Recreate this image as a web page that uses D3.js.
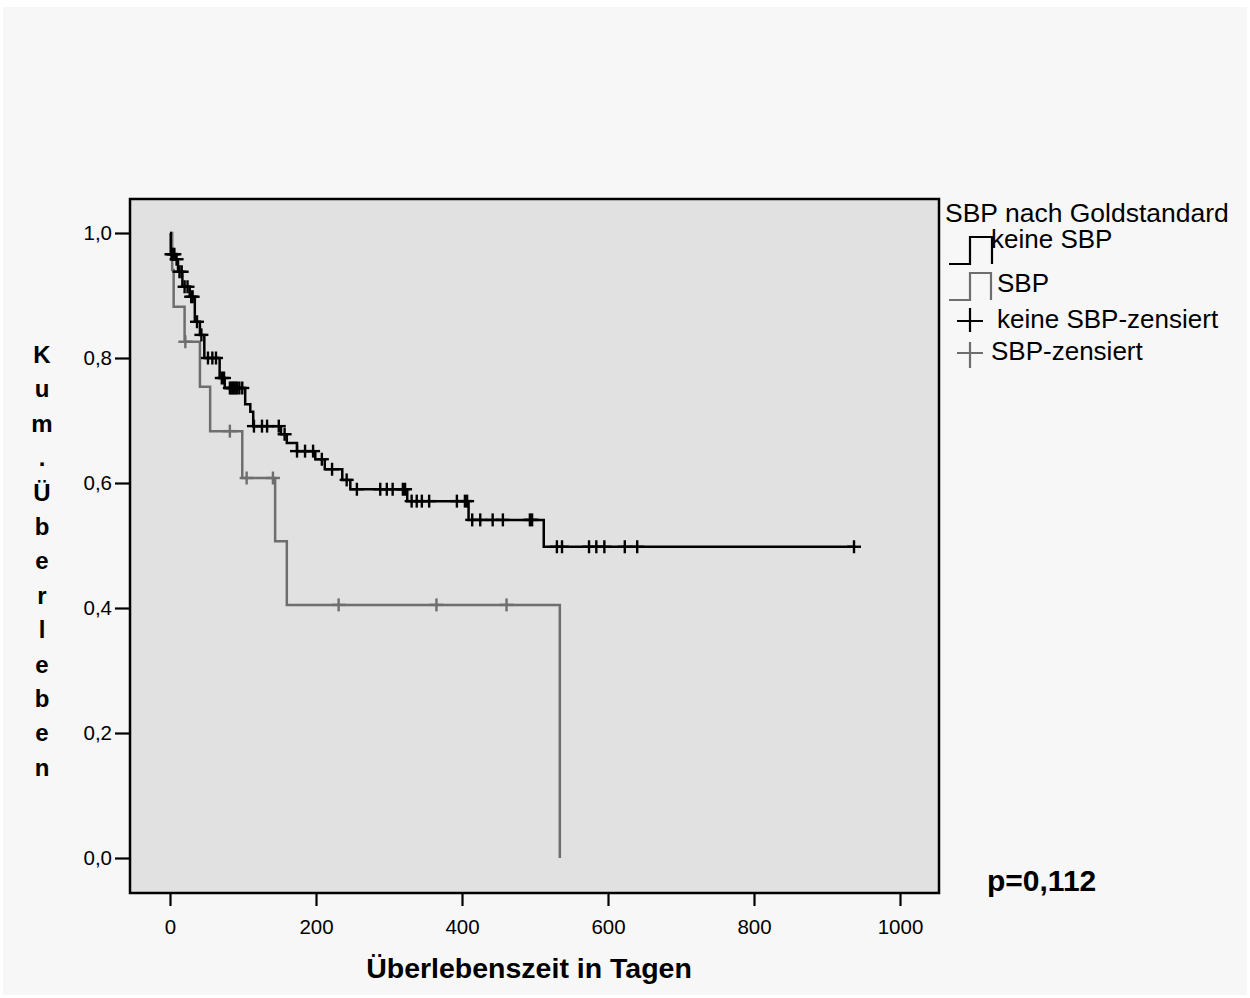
<!DOCTYPE html>
<html>
<head>
<meta charset="utf-8">
<script src="https://cdn.jsdelivr.net/npm/d3@7"></script>
<style>
  html, body { margin: 0; padding: 0; background: #ffffff; }
  svg { display: block; font-family: "Liberation Sans", Arial, sans-serif; }
</style>
</head>
<body>
<svg id="chart" width="1250" height="998"></svg>
<script>
// ---- data ----
const xTicks = [0, 200, 400, 600, 800, 1000];
const xTickLabels = ["0", "200", "400", "600", "800", "1000"];
const yTicks = [0, 0.2, 0.4, 0.6, 0.8, 1.0];
const yTickLabels = ["0,0", "0,2", "0,4", "0,6", "0,8", "1,0"];

// keine SBP (black): step times (days) and survival after each step
const keineTimes = [1, 7, 11, 17, 27, 34, 41, 47, 68, 75, 103, 110, 114, 152, 160, 174, 199, 212, 236, 247, 325, 409, 512];
const keineSurv  = [0.966, 0.958, 0.938, 0.914, 0.898, 0.858, 0.837, 0.800, 0.768, 0.752, 0.726, 0.714, 0.691, 0.678, 0.664, 0.651, 0.638, 0.622, 0.605, 0.590, 0.571, 0.541, 0.498];
const keineCensored = [2, 4, 6, 9, 13, 16, 20, 24, 29, 31, 37, 43, 52, 58, 63, 71, 74, 82, 84, 86, 88, 90, 92, 95, 99,
  115, 126, 133, 149, 157, 174, 185, 196, 208, 222, 242, 256, 288, 297, 305, 319, 322, 331, 338, 345, 355, 393, 404, 407,
  414, 425, 442, 456, 493, 496, 530, 537, 574, 584, 595, 623, 640, 937];

// SBP (gray)
const sbpTimes = [3, 5, 20, 41, 55, 99, 144, 160, 534];
const sbpSurv  = [0.941, 0.882, 0.826, 0.754, 0.683, 0.608, 0.507, 0.405, 0.0];
const sbpCensored = [21, 82, 105, 141, 231, 365, 461];

const legendTitle = "SBP nach Goldstandard";
const legendLabels = ["keine SBP", "SBP", "keine SBP-zensiert", "SBP-zensiert"];
const xTitle = "Überlebenszeit in Tagen";
const yTitle = "Kum.Überleben";
const pText = "p=0,112";

const BLACK = "#000000";
const GRAY = "#6e6e6e";

// ---- drawing ----
const svg = d3.select("#chart");

svg.append("rect").attr("x", 3).attr("y", 7).attr("width", 1244).attr("height", 988).attr("fill", "#f7f7f7");

const plot = { left: 130, top: 199, right: 939, bottom: 893 };
svg.append("rect")
  .attr("x", plot.left).attr("y", plot.top)
  .attr("width", plot.right - plot.left).attr("height", plot.bottom - plot.top)
  .attr("fill", "#e1e1e1");

const x = d3.scaleLinear().domain([0, 1000]).range([170, 900]);
const y = d3.scaleLinear().domain([0, 1]).range([858, 233]);

function stepPath(times, surv, endTime) {
  const p = d3.path();
  p.moveTo(x(0), y(1));
  let cur = 1;
  times.forEach((t, i) => {
    p.lineTo(x(t), y(cur));
    cur = surv[i];
    p.lineTo(x(t), y(cur));
  });
  if (endTime !== undefined && endTime > times[times.length - 1]) p.lineTo(x(endTime), y(cur));
  return p.toString();
}
function survAt(times, surv, t) {
  let s = 1;
  times.forEach((tt, i) => { if (t >= tt) s = surv[i]; });
  return s;
}

const g = svg.append("g");

// gray curve first, black on top
g.append("path").attr("d", stepPath(sbpTimes, sbpSurv))
  .attr("fill", "none").attr("stroke", GRAY).attr("stroke-width", 2.5);
g.append("path").attr("d", stepPath(keineTimes, keineSurv, d3.max(keineCensored)))
  .attr("fill", "none").attr("stroke", BLACK).attr("stroke-width", 2.5);

function censorMarks(times, stepT, stepS, color) {
  const sel = g.append("g").selectAll("g").data(times).join("g")
    .attr("transform", d => `translate(${x(d)},${y(survAt(stepT, stepS, d))})`);
  sel.append("line").attr("x1", -7).attr("x2", 7).attr("y1", 0).attr("y2", 0)
    .attr("stroke", color).attr("stroke-width", 2.4);
  sel.append("line").attr("x1", 0).attr("x2", 0).attr("y1", -6.5).attr("y2", 6.5)
    .attr("stroke", color).attr("stroke-width", 2.4);
}
censorMarks(sbpCensored, sbpTimes, sbpSurv, GRAY);
censorMarks(keineCensored, keineTimes, keineSurv, BLACK);

// frame
svg.append("rect")
  .attr("x", plot.left).attr("y", plot.top)
  .attr("width", plot.right - plot.left).attr("height", plot.bottom - plot.top)
  .attr("fill", "none").attr("stroke", "#000").attr("stroke-width", 2.5);

// x axis
const xAxis = d3.axisBottom(x).tickValues(xTicks).tickFormat((d, i) => xTickLabels[i])
  .tickSize(13).tickPadding(13).tickSizeOuter(0);
const xg = svg.append("g").attr("transform", `translate(0,${plot.bottom})`).call(xAxis);
xg.select(".domain").remove();
xg.selectAll(".tick line").attr("stroke", "#000").attr("stroke-width", 2.2);
xg.selectAll(".tick text").attr("font-size", 20.5).attr("fill", "#000")
  .attr("font-family", "'Liberation Sans', Arial, sans-serif");

// y axis
const yAxis = d3.axisLeft(y).tickValues(yTicks).tickFormat((d, i) => yTickLabels[i]).tickSize(15).tickPadding(3).tickSizeOuter(0);
const yg = svg.append("g").attr("transform", `translate(${plot.left},0)`).call(yAxis);
yg.select(".domain").remove();
yg.selectAll(".tick line").attr("stroke", "#000").attr("stroke-width", 2.2);
yg.selectAll(".tick text").attr("font-size", 20.5).attr("fill", "#000")
  .attr("font-family", "'Liberation Sans', Arial, sans-serif");

// axis titles
svg.append("text").attr("x", 529).attr("y", 978).attr("text-anchor", "middle")
  .attr("font-size", 28.5).attr("font-weight", "bold").text(xTitle);

const yLetters = Array.from(yTitle);
svg.append("g").selectAll("text").data(yLetters).join("text")
  .attr("x", 42).attr("y", (d, i) => 363 + i * 34.4).attr("text-anchor", "middle")
  .attr("font-size", 24).attr("font-weight", "bold").text(d => d);

// legend
const lg = svg.append("g");
lg.append("text").attr("x", 945).attr("y", 222).attr("font-size", 26.5).text(legendTitle);
lg.append("path").attr("d", "M949,264H970V237H992V264").attr("fill", "none").attr("stroke", BLACK).attr("stroke-width", 2.2);
lg.append("text").attr("x", 991).attr("y", 248).attr("font-size", 26).text(legendLabels[0]);
lg.append("path").attr("d", "M949,300H970V273H991V300").attr("fill", "none").attr("stroke", GRAY).attr("stroke-width", 2.2);
lg.append("text").attr("x", 997).attr("y", 292).attr("font-size", 26).text(legendLabels[1]);
lg.append("path").attr("d", "M957,321H983M970,308V332").attr("stroke", BLACK).attr("stroke-width", 2.2);
lg.append("text").attr("x", 997).attr("y", 328).attr("font-size", 26).text(legendLabels[2]);
lg.append("path").attr("d", "M957,353H983M970,342V368").attr("stroke", GRAY).attr("stroke-width", 2.2);
lg.append("text").attr("x", 991).attr("y", 360).attr("font-size", 26).text(legendLabels[3]);

// p-value
svg.append("text").attr("x", 987).attr("y", 891).attr("font-size", 30).attr("font-weight", "bold").text(pText);
</script>
</body>
</html>
